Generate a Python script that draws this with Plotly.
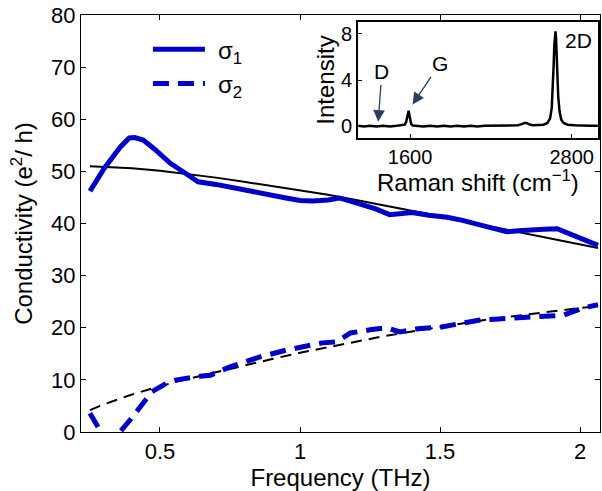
import plotly.graph_objects as go

# ---- main panel data ----
freq_s1 = [0.25, 0.30, 0.357, 0.39, 0.41, 0.44, 0.48, 0.536, 0.60, 0.636, 0.70, 0.797, 0.857, 0.95,
           1.0, 1.046, 1.10, 1.14, 1.18, 1.225, 1.27, 1.32, 1.36, 1.40, 1.46, 1.525, 1.58, 1.643,
           1.69, 1.738, 1.78, 1.82, 1.87, 1.918, 1.975, 2.02, 2.064]
sigma1 = [46.2, 50.5, 54.6, 56.4, 56.5, 56.0, 54.3, 51.6, 49.3, 48.0, 47.5, 46.4, 45.9, 44.9,
          44.4, 44.3, 44.5, 44.9, 44.3, 43.6, 42.8, 41.7, 41.8, 42.1, 41.6, 41.2, 40.6, 39.7,
          39.2, 38.4, 38.6, 38.8, 38.9, 39.0, 37.8, 36.9, 35.8]

freq_s2 = [0.25, 0.286, 0.30, 0.34, 0.357, 0.393, 0.436, 0.471, 0.525, 0.56, 0.643, 0.68, 0.75,
           0.857, 0.95, 1.08, 1.13, 1.18, 1.25, 1.31, 1.357, 1.42, 1.5, 1.57, 1.643, 1.71,
           1.775, 1.846, 1.94, 2.01, 2.064]
sigma2 = [3.6, 0.4, -1.0, -1.5, 0.0, 2.3, 5.2, 7.7, 9.4, 10.0, 10.7, 10.9, 12.5,
          14.4, 15.7, 17.1, 17.3, 19.0, 19.6, 20.0, 19.2, 19.8, 20.1, 20.9, 21.5, 21.7,
          21.9, 21.9, 22.4, 23.8, 24.4]

freq_fit = [0.25, 0.30, 0.40, 0.50, 0.60, 0.70, 0.80, 0.90, 1.00, 1.10, 1.20, 1.30, 1.40,
            1.50, 1.60, 1.70, 1.80, 1.90, 2.00, 2.064]
fit1 = [51.0, 50.9, 50.6, 50.1, 49.5, 48.8, 48.0, 47.2, 46.4, 45.5, 44.5, 43.5, 42.5,
        41.4, 40.3, 39.2, 38.1, 37.0, 35.9, 35.3]
fit2 = [4.2, 5.3, 7.2, 8.8, 10.2, 11.5, 12.8, 14.0, 15.2, 16.3, 17.4, 18.4, 19.3,
        20.2, 21.0, 21.8, 22.5, 23.2, 23.8, 24.1]

x_ticks = [0.5, 1, 1.5, 2]
y_ticks = [0, 10, 20, 30, 40, 50, 60, 70, 80]

# ---- inset (Raman) data ----
raman_shift = [1214, 1260, 1300, 1350, 1400, 1450, 1500, 1540, 1560, 1570, 1578, 1584, 1589, 1594,
               1600, 1608, 1620, 1650, 1700, 1750, 1800, 1850, 1900, 1950, 2000, 2050, 2100,
               2150, 2200, 2250, 2300, 2350, 2400, 2430, 2450, 2465, 2480, 2510, 2550, 2590,
               2620, 2640, 2652, 2660, 2666, 2671, 2676, 2680, 2684, 2688, 2693, 2700, 2710,
               2722, 2740, 2770, 2820, 2880, 2940, 2995]
intensity = [0.05, 0.0, 0.05, 0.0, 0.05, 0.0, 0.05, 0.1, 0.15, 0.35, 0.8, 1.25, 1.35, 1.0,
             0.5, 0.2, 0.08, 0.05, 0.0, 0.05, 0.0, 0.05, 0.0, 0.05, 0.0, 0.05, 0.0,
             0.05, 0.05, 0.1, 0.05, 0.1, 0.1, 0.2, 0.3, 0.3, 0.2, 0.1, 0.1, 0.15,
             0.3, 0.7, 1.6, 3.2, 5.2, 7.0, 8.1, 8.2, 7.6, 6.2, 4.3, 2.6, 1.3,
             0.6, 0.3, 0.15, 0.1, 0.05, 0.05, 0.05]
inset_x_ticks = [1600, 2800]
inset_y_ticks = [0, 4, 8]

BLUE = "rgb(0,0,205)"
FONT = "Liberation Sans, Arial, Helvetica, sans-serif"
TICK = 22
TITLE = 24
INSET_TICK = 20
INSET_X = [0.534, 0.996]
INSET_Y = [0.705, 0.983]

fig = go.Figure()

fig.add_trace(go.Scatter(x=freq_fit, y=fit1, mode="lines", line=dict(color="black", width=2),
                         showlegend=False, hoverinfo="skip"))
fig.add_trace(go.Scatter(x=freq_fit, y=fit2, mode="lines",
                         line=dict(color="black", width=2, dash="11px,7px"),
                         showlegend=False, hoverinfo="skip"))
fig.add_trace(go.Scatter(x=freq_s1, y=sigma1, mode="lines", name="\u2004σ<sub>1</sub>",
                         line=dict(color=BLUE, width=5), legendgroup="a"))
fig.add_trace(go.Scatter(x=freq_s2, y=sigma2, mode="lines", name="\u2004σ<sub>2</sub>",
                         line=dict(color=BLUE, width=5, dash="16px,9px"), legendgroup="b"))

fig.add_trace(go.Scatter(x=raman_shift, y=intensity, mode="lines", xaxis="x2", yaxis="y2",
                         line=dict(color="black", width=2.5), showlegend=False))

axis_common = dict(showline=True, linecolor="black", linewidth=1, mirror="ticks",
                   ticks="inside", ticklen=5, tickcolor="black", showgrid=False, zeroline=False,
                   tickfont=dict(size=TICK, color="black", family=FONT))
inset_common = dict(showline=True, linecolor="black", linewidth=2, mirror=True,
                    ticks="inside", ticklen=4, tickcolor="black", showgrid=False, zeroline=False,
                    tickfont=dict(size=INSET_TICK, color="black", family=FONT))

fig.update_layout(
    width=602, height=491,
    margin=dict(l=81, r=2, t=15, b=59),
    plot_bgcolor="white", paper_bgcolor="white",
    font=dict(family=FONT, size=TICK, color="black"),
    xaxis=dict(range=[0.218, 2.071], tickvals=x_ticks, ticktext=[str(v) for v in x_ticks],
               title=dict(text="Frequency (THz)", standoff=0, font=dict(size=TITLE)),
               domain=[0, 1], **axis_common),
    yaxis=dict(range=[0, 80], tickvals=y_ticks,
               title=dict(text="Conductivity (e<sup>2</sup>/ h)", standoff=11, font=dict(size=TITLE)),
               domain=[0, 1], **axis_common),
    xaxis2=dict(range=[1214, 2995], tickvals=inset_x_ticks, anchor="y2",
                domain=INSET_X, **inset_common),
    yaxis2=dict(range=[-1, 9], tickvals=inset_y_ticks, anchor="x2",
                domain=INSET_Y,
                title=dict(text="Intensity", standoff=0, font=dict(size=TITLE)),
                **inset_common),
    legend=dict(x=0.129, y=0.971, xanchor="left", yanchor="top", bgcolor="rgba(0,0,0,0)",
                font=dict(size=TITLE), itemwidth=52, tracegroupgap=0),
    showlegend=True,
)

# inset x-axis title (placed as text just under the inset tick labels)
fig.add_annotation(x=(INSET_X[0] + INSET_X[1]) / 2, y=0.601, xref="paper", yref="paper",
                   text="Raman shift (cm<sup>−1</sup>)", showarrow=False,
                   xanchor="center", yanchor="middle", font=dict(size=TITLE))

fig.add_annotation(x=1363, y=0.4, ax=1390, ay=4.7, xref="x2", yref="y2", axref="x2", ayref="y2",
                   text="D", showarrow=True, arrowhead=2, arrowsize=1.8, arrowwidth=1.3,
                   font=dict(size=INSET_TICK + 1), standoff=0)
fig.add_annotation(x=1618, y=1.9, ax=1820, ay=5.4, xref="x2", yref="y2", axref="x2", ayref="y2",
                   text="G", showarrow=True, arrowhead=2, arrowsize=1.8, arrowwidth=1.3,
                   font=dict(size=INSET_TICK + 1), standoff=0)
fig.add_annotation(x=2850, y=7.4, xref="x2", yref="y2", text="2D", showarrow=False,
                   font=dict(size=INSET_TICK + 1))

fig.write_html("out.html", config={"displayModeBar": False},
               post_script="document.body.style.margin='0';")
